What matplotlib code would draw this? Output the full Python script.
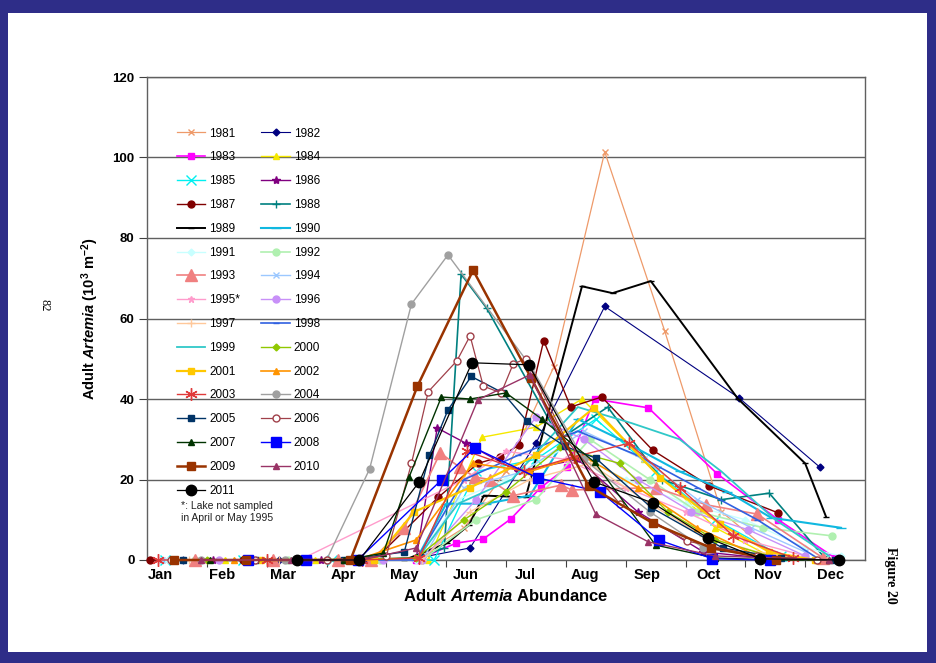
import matplotlib.pyplot as plt
from matplotlib.patches import Rectangle

plt.rcParams['font.family'] = ['Liberation Sans', 'DejaVu Sans']
plt.rcParams['mathtext.fontset'] = 'custom'
plt.rcParams['mathtext.rm'] = 'Liberation Sans:bold'
plt.rcParams['mathtext.it'] = 'Liberation Sans:italic:bold'
plt.rcParams['mathtext.bf'] = 'Liberation Sans:bold'

# x in months from 1 Jan (0) to 31 Dec (12), y in 10^3 adults per m^2
month_labels = ['Jan', 'Feb', 'Mar', 'Apr', 'May', 'Jun',
                'Jul', 'Aug', 'Sep', 'Oct', 'Nov', 'Dec']
label_pos = [0.22, 1.25, 2.27, 3.28, 4.30, 5.33, 6.33, 7.32, 8.35, 9.38, 10.38, 11.43]

m_1981 = [0.3, 1.9, 3.4, 4.5, 5.3, 6.0, 6.8, 7.65, 8.65, 9.6, 10.5, 11.4]
v_1981 = [0, 0, 0, 0.5, 8, 22, 48, 101.4, 57, 12, 1, 0]
m_1982 = [0.6, 2.2, 3.7, 4.6, 5.4, 6.5, 7.65, 9.9, 11.25]
v_1982 = [0, 0, 0, 0.7, 3, 29, 63, 40.2, 23]
m_1983 = [4.5, 5.17, 5.62, 6.08, 6.58, 7.02, 7.48, 8.38, 9.53, 10.55, 11.5]
v_1983 = [0, 4.2, 5.2, 10.2, 18, 23, 40, 37.8, 21.4, 10, 0.5]
m_1984 = [1.3, 2.8, 4.7, 5.6, 6.5, 7.27, 8.3, 9.5, 10.4, 11.3]
v_1984 = [0, 0, 0, 30.5, 33, 40, 25, 8, 1, 0]
m_1985 = [0.3, 1.6, 3.1, 4.8, 5.5, 6.5, 7.5, 8.5, 9.5, 10.6]
v_1985 = [0, 0, 0, 0, 22, 25, 35, 22, 10, 1]
m_1986 = [1.1, 2.9, 4.5, 4.85, 5.33, 6.2, 7.2, 8.2, 9.3, 10.3]
v_1986 = [0, 0, 0.5, 32.8, 29, 22, 25, 12, 2, 0.5]
m_1987 = [0.05, 1.6, 2.5, 3.8, 4.87, 5.53, 5.9, 6.22, 6.63, 7.08, 7.6, 8.45, 9.4, 10.55]
v_1987 = [0, 0, 0, 0, 15.6, 24, 25.6, 28.6, 54.5, 38, 40.5, 27.3, 18.4, 11.7]
m_1988 = [0.5, 2.0, 3.5, 4.5, 4.97, 5.25, 5.68, 6.9, 7.7, 8.6, 9.6, 10.4, 11.3]
v_1988 = [0, 0, 0, 0.5, 3, 71, 62.5, 30, 38, 20, 15, 16.6, 1]
m_1989 = [0.9, 2.4, 4.3, 5.02, 5.38, 5.63, 6.33, 7.27, 7.78, 8.42, 9.88, 11.0, 11.35]
v_1989 = [0, 0, 0, 4.2, 8.7, 16, 15.6, 68, 66.3, 69.3, 40, 24, 10.7]
m_1990 = [1.4, 3.0, 4.5, 5.0, 5.67, 6.4, 7.2, 7.9, 8.9, 9.7, 10.43, 11.6]
v_1990 = [0, 0, 0, 14, 14, 16, 35, 30, 22, 17, 10.5, 8]
m_1991 = [0.35, 1.85, 3.3, 4.5, 5.2, 6.0, 7.0, 8.0, 9.0, 10.0, 11.0, 11.6]
v_1991 = [0, 0, 0, 0, 15, 20, 28, 20, 14, 10, 3, 1]
m_1992 = [0.8, 2.35, 3.9, 4.6, 5.5, 6.5, 7.4, 8.4, 9.2, 10.3, 11.45]
v_1992 = [0, 0, 0, 0, 10, 15, 30, 20, 12, 8, 6]
m_1993 = [0.8, 2.1, 3.2, 3.75, 4.3, 4.9, 5.23, 5.48, 5.73, 6.12, 6.92, 7.1, 8.5, 9.35, 10.2, 11.3]
v_1993 = [0, 0, 0, 0, 8, 26.6, 23, 20.6, 20, 16, 18.6, 17.4, 18, 13.7, 11.4, 0.5]
m_1994 = [0.25, 1.75, 3.3, 4.6, 5.3, 6.3, 7.3, 8.3, 9.2, 10.1, 11.0]
v_1994 = [0, 0, 0, 0, 18, 22, 32, 25, 15, 8, 2]
m_1995 = [1.0, 2.55, 5.3, 6.0, 7.0, 8.0, 9.0, 10.0, 11.0]
v_1995 = [0, 0, 20, 27, 25, 18, 12, 5, 1]
m_1996 = [1.2, 2.7, 3.95, 4.6, 5.5, 6.5, 7.3, 8.2, 9.1, 10.05, 11.0]
v_1996 = [0, 0, 0, 0, 15, 35.5, 30, 20, 12, 7.5, 1]
m_1997 = [0.7, 2.2, 3.6, 4.6, 5.4, 6.4, 7.4, 8.4, 9.3, 10.2, 11.2]
v_1997 = [0, 0, 0, 0, 12, 20, 24, 14, 6, 2, 0]
m_1998 = [1.5, 3.1, 4.5, 5.3, 6.2, 7.2, 8.2, 9.2, 10.2, 11.2]
v_1998 = [0, 0, 0, 20, 26, 32, 26, 18, 10, 0.5]
m_1999 = [4.5, 5.2, 6.1, 7.2, 8.1, 8.9, 9.6, 10.5, 11.4]
v_1999 = [0, 14, 20, 38, 34, 30, 22, 10, 1]
m_2000 = [1.0, 2.6, 4.5, 5.3, 6.0, 6.9, 7.9, 8.7, 9.5, 10.4]
v_2000 = [0, 0, 0.5, 10, 17, 28, 24, 12, 5, 1]
m_2001 = [1.9, 3.8, 4.47, 5.4, 6.5, 7.47, 8.58, 9.57, 10.4, 11.17]
v_2001 = [0, 0, 12, 18, 26, 37.8, 20.4, 9, 2, 0]
m_2002 = [1.45, 3.5, 4.5, 5.45, 6.4, 7.27, 8.2, 9.2, 10.2, 11.2]
v_2002 = [0, 0, 5, 24, 22, 26, 18, 8, 1, 0]
m_2003 = [0.18, 2.0, 3.6, 4.55, 5.35, 6.3, 7.13, 8.05, 8.9, 9.8, 10.8]
v_2003 = [0, 0, 0, 0.5, 27, 22, 25.6, 29, 18, 6, 0.5]
m_2004 = [0.9, 2.3, 3.0, 3.72, 4.42, 5.03, 6.42, 7.3, 8.4, 9.3, 10.4]
v_2004 = [0, 0, 0, 22.6, 63.6, 75.8, 48, 25, 12, 3, 0.5]
m_2005 = [0.6, 1.8, 3.3, 4.3, 4.72, 5.03, 5.42, 5.95, 6.35, 6.98, 7.5, 8.43, 9.62, 10.6, 11.5]
v_2005 = [0, 0, 0, 2, 26, 37.3, 45.6, 41.5, 34.5, 28.3, 25.3, 13, 3, 0.5, 0]
m_2006 = [0.4, 1.8, 3.0, 4.0, 4.42, 4.7, 5.18, 5.4, 5.62, 5.92, 6.12, 6.33, 7.0, 7.9, 9.03, 10.2, 11.2]
v_2006 = [0, 0, 0, 1, 24, 41.8, 49.5, 55.7, 43.2, 41.5, 48.7, 50, 30, 14, 4.7, 1, 0]
m_2007 = [1.05, 2.5, 3.3, 3.95, 4.38, 4.92, 5.4, 6.0, 6.6, 7.48, 8.5, 9.5, 10.5, 11.4]
v_2007 = [0, 0, 0, 1.7, 20.6, 40.5, 40, 41.5, 35, 24.3, 3.7, 0.5, 0, 0]
m_2008 = [1.68, 2.65, 3.52, 4.93, 5.48, 6.53, 7.57, 8.55, 9.45, 10.42]
v_2008 = [0, 0, 0, 20, 27.8, 20.4, 17, 5, 0.3, 0]
m_2009 = [0.45, 1.65, 3.4, 4.52, 5.45, 6.42, 7.38, 8.45, 9.43, 10.52]
v_2009 = [0, 0, 0, 43.2, 72, 45.2, 18.4, 9.2, 3, 0]
m_2010 = [0.9, 2.4, 3.6, 4.5, 5.53, 6.4, 7.5, 8.38, 9.5, 11.4]
v_2010 = [0, 0, 0, 3, 39.8, 46, 11.4, 4.5, 1, 0]
m_2011 = [2.5, 3.55, 4.55, 5.43, 6.38, 7.47, 8.45, 9.37, 10.25, 11.57]
v_2011 = [0, 0, 19.4, 49, 48.5, 19.4, 14.2, 5.5, 0.3, 0]

years = list(range(1981, 2012))
series = [(globals()['m_%d' % yr], globals()['v_%d' % yr]) for yr in years]

# colour, marker, marker size, line width, marker face
styles = {
    1981: ('#EE9A6A', 'x', 5, 0.9, None),
    1982: ('#000080', 'D', 3.5, 0.8, None),
    1983: ('#FF00FF', 's', 5, 1.2, None),
    1984: ('#F5E800', '^', 5, 1.0, None),
    1985: ('#00F0F0', 'x', 7, 1.0, None),
    1986: ('#800080', '*', 6, 1.0, None),
    1987: ('#800000', 'o', 5, 1.0, None),
    1988: ('#008080', '+', 6, 1.2, None),
    1989: ('#000000', '_', 5, 1.4, None),
    1990: ('#10B8E0', '_', 7, 1.5, None),
    1991: ('#C8FFFF', 'D', 3.5, 1.0, None),
    1992: ('#B0F0B0', 'o', 5, 1.2, None),
    1993: ('#F08080', '^', 8, 1.2, None),
    1994: ('#9CC8FF', 'x', 5, 1.0, None),
    1995: ('#FF9CCC', '*', 5, 1.0, None),
    1996: ('#C890F8', 'o', 5, 1.0, None),
    1997: ('#FFC89A', '+', 6, 1.0, None),
    1998: ('#3060E0', '_', 5, 1.2, None),
    1999: ('#30C8C8', 'None', 5, 1.3, None),
    2000: ('#90C800', 'D', 3.5, 1.0, None),
    2001: ('#FFC800', 's', 5, 1.6, None),
    2002: ('#FF9400', '^', 5, 1.2, None),
    2003: ('#E03A3A', (6, 2, 0), 9, 1.0, None),
    2004: ('#A0A0A0', 'o', 5, 1.0, None),
    2005: ('#003366', 's', 5, 1.0, None),
    2006: ('#A0404A', 'o', 5, 0.9, 'white'),
    2007: ('#003300', '^', 5, 1.0, None),
    2008: ('#0000FF', 's', 7.5, 1.0, None),
    2009: ('#993300', 's', 6, 1.8, None),
    2010: ('#993366', '^', 5, 1.0, None),
    2011: ('#000000', 'o', 7.5, 0.9, None),
}

fig = plt.figure(figsize=(9.36, 6.63), dpi=100)
fig.patch.set_facecolor('#2E2D88')
fig.patches.append(Rectangle((8 / 936, 11 / 663), 919 / 936, 639 / 663,
                             transform=fig.transFigure, facecolor='white',
                             edgecolor='none', zorder=-10))

ax = fig.add_axes([147 / 936, 103 / 663, 718 / 936, 483 / 663])
ax.set_zorder(2)
ax.set_facecolor('white')

handles = {}
for yr, (mx, vy) in zip(years, series):
    c, mk, ms, lw, mfc = styles[yr]
    ln, = ax.plot(mx, vy, color=c, marker=mk, markersize=ms, linewidth=lw,
                  markerfacecolor=mfc if mfc else c, markeredgecolor=c,
                  markeredgewidth=1.0, clip_on=False, zorder=3,
                  label=str(yr) + ('*' if yr == 1995 else ''))
    handles[yr] = ln

ax.set_xlim(0, 12)
ax.set_ylim(0, 120)
ax.set_yticks(range(0, 121, 20))
ax.yaxis.grid(True, color='#606060', linewidth=1.0)
ax.set_axisbelow(True)
for s in ax.spines.values():
    s.set_color('#606060')
    s.set_linewidth(1.0)

ax.set_xticks(range(1, 12))
ax.set_xticklabels([])
ax.set_xticks(label_pos, minor=True)
ax.set_xticklabels(month_labels, minor=True, fontsize=10.5, fontweight='bold')
ax.tick_params(axis='x', which='major', direction='out', length=5, color='#404040')
ax.tick_params(axis='x', which='minor', length=0, pad=6)
ax.tick_params(axis='y', direction='out', length=6, color='#404040', pad=3)
for t in ax.get_yticklabels():
    t.set_fontweight('bold')
    t.set_fontsize(9.5)

ax.set_ylabel(r'Adult $\mathit{Artemia}$ (10$^{3}$ m$^{-2}$)', fontsize=10.5,
              fontweight='bold', labelpad=8)
ax.set_xlabel(r'Adult $\mathit{Artemia}$ Abundance', fontsize=12,
              fontweight='bold', labelpad=4)

order = [y for y in years if y % 2 == 1] + [y for y in years if y % 2 == 0]
leg = ax.legend([handles[y] for y in order],
                [handles[y].get_label() for y in order],
                ncol=2, frameon=False, fontsize=8.5, loc='upper left',
                bbox_to_anchor=(0.035, 0.905), labelspacing=1.0,
                handlelength=2.4, handletextpad=0.35, columnspacing=1.8,
                borderaxespad=0)
leg.set_zorder(5)

ax.text(0.047, 0.122, '*: Lake not sampled\nin April or May 1995',
        transform=ax.transAxes, fontsize=7.5, va='top', ha='left',
        linespacing=1.3, color='#202020')

fig.text(45 / 936, 1 - 305 / 663, '82', rotation=270, family='Liberation Serif',
         fontsize=9, ha='center', va='center')
fig.text(890 / 936, 1 - 575 / 663, 'Figure 20', rotation=270,
         family='Liberation Serif', fontweight='bold', fontsize=10,
         ha='center', va='center')

fig.savefig('out.png', dpi=100, facecolor=fig.get_facecolor())
